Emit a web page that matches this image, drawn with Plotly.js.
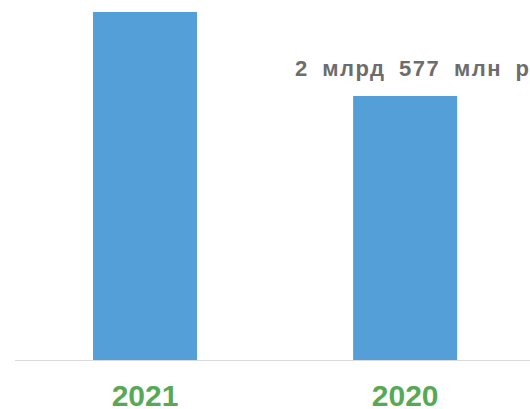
<!DOCTYPE html>
<html>
<head>
<meta charset="utf-8">
<script src="https://cdn.plot.ly/plotly-3.0.1.min.js"></script>
<style>
html,body{margin:0;padding:0;background:#fff;}
#chart{width:530px;height:409px;}
</style>
</head>
<body>
<div id="chart"></div>
<script>
var years = ["2021", "2020"];
var values = [3397, 2577];
var labels = ["3 млрд 397 млн руб.", "2 млрд 577 млн руб."];

var trace = {
  type: "bar",
  x: years,
  y: values,
  marker: {color: "#559fd8"},
  hoverinfo: "none"
};

// the reference lettering is wide, with broad word gaps
function styleLabel(s) {
  return "<span style='letter-spacing:1.5px;word-spacing:6px'>" + s + "</span>";
}

var annotations = years.map(function (yr, i) {
  return {
    x: i, y: values[i], xref: "x", yref: "y",
    text: styleLabel(labels[i]), showarrow: false,
    xanchor: "left", yanchor: "bottom",
    xshift: -112, yshift: 13,
    font: {family: "Liberation Sans, Arial, sans-serif", size: 22, color: "#6d6d6d", weight: "bold"}
  };
});

var layout = {
  width: 530, height: 409,
  margin: {l: 15, r: 0, t: 0, b: 49},
  paper_bgcolor: "#fff", plot_bgcolor: "#fff",
  showlegend: false,
  bargap: 0.6,
  xaxis: {
    type: "category",
    range: [-0.5, 1.48],
    showline: true, linecolor: "#d9d9d9", linewidth: 1,
    showgrid: false, zeroline: false,
    ticks: "", ticklabelstandoff: 9,
    tickfont: {family: "Liberation Sans, Arial, sans-serif", size: 30, color: "#57a957", weight: "bold"}
  },
  yaxis: {
    range: [0, 3514],
    visible: false,
    showgrid: false, zeroline: false
  },
  annotations: annotations
};

Plotly.newPlot("chart", [trace], layout, {displayModeBar: false, staticPlot: true});
</script>
</body>
</html>
